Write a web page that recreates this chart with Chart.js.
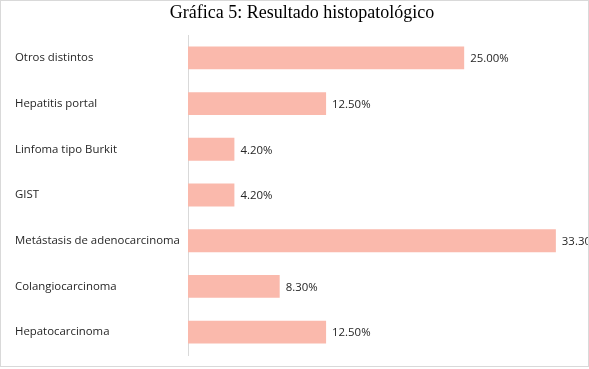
<!DOCTYPE html>
<html>
<head>
<meta charset="utf-8">
<script src="https://cdn.jsdelivr.net/npm/chart.js@4/dist/chart.umd.min.js"></script>
<style>
html,body{margin:0;padding:0;background:#fff;}
#wrap{position:relative;width:589px;height:369px;}
</style>
</head>
<body>
<div id="wrap"><canvas id="c" width="589" height="369"></canvas></div>
<script>
const categories = ["Otros distintos","Hepatitis portal","Linfoma tipo Burkit","GIST","Metástasis de adenocarcinoma","Colangiocarcinoma","Hepatocarcinoma"];
const values = [25.00, 12.50, 4.20, 4.20, 33.30, 8.30, 12.50];
const titleText = "Gráfica 5: Resultado histopatológico";

const valueLabels = {
  id: 'valueLabels',
  afterDatasetsDraw(chart) {
    const ctx = chart.ctx;
    const meta = chart.getDatasetMeta(0);
    ctx.save();
    ctx.font = '11.4px "Open Sans"';
    ctx.fillStyle = '#262626';
    ctx.textBaseline = 'middle';
    ctx.textAlign = 'left';
    meta.data.forEach((el, i) => {
      ctx.fillText(values[i].toFixed(2) + '%', el.x + 6, el.y + 1);
    });
    ctx.restore();
  }
};
const frame = {
  id: 'frame',
  afterDraw(chart) {
    const ctx = chart.ctx;
    ctx.save();
    ctx.strokeStyle = '#d9d9d9';
    ctx.lineWidth = 1;
    ctx.strokeRect(0.5, 0.5, 588, 366);
    ctx.restore();
  }
};

new Chart(document.getElementById('c'), {
  type: 'bar',
  data: {
    labels: categories,
    datasets: [{
      data: values,
      backgroundColor: 'rgb(250,185,172)',
      borderWidth: 0,
      barPercentage: 1,
      categoryPercentage: 0.5
    }]
  },
  options: {
    indexAxis: 'y',
    responsive: false,
    animation: false,
    layout: { padding: { left: 15, right: 0, top: 0, bottom: 14 } },
    plugins: {
      legend: { display: false },
      tooltip: { enabled: false },
      title: {
        display: true,
        text: titleText,
        color: '#000',
        font: { family: '"Liberation Serif"', size: 18, weight: 'normal' },
        padding: { top: 2, bottom: 11.4 }
      }
    },
    scales: {
      x: { display: false, min: 0, max: 36.3 },
      y: {
        grid: { display: false },
        border: { display: true, color: '#d9d9d9', width: 1 },
        ticks: {
          crossAlign: 'far',
          color: '#262626',
          font: { family: '"Open Sans"', size: 11.4 }
        },
        afterFit(scale) { scale.width = 173; }
      }
    }
  },
  plugins: [valueLabels, frame]
});
</script>
</body>
</html>
